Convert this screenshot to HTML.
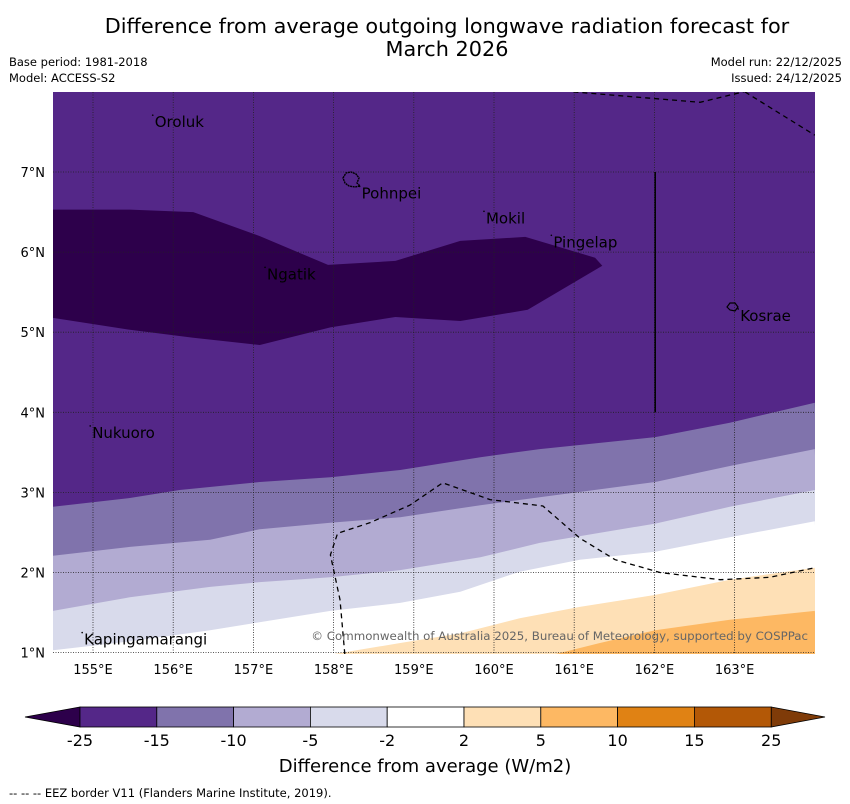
<!DOCTYPE html>
<html><head><meta charset="utf-8">
<style>
body{margin:0;background:#fff;width:850px;height:804px;overflow:hidden;font-family:"Liberation Sans","DejaVu Sans",sans-serif}
svg{display:block}
text{font-family:"DejaVu Sans","Liberation Sans",sans-serif}
</style></head>
<body>
<svg id="chart" width="850" height="804" viewBox="0 0 850 804">
<text x="447" y="33" text-anchor="middle" font-size="20.8" fill="#000">Difference from average outgoing longwave radiation forecast for</text>
<text x="447" y="56" text-anchor="middle" font-size="20.8" fill="#000">March 2026</text>
<text x="9" y="66" font-size="11.5">Base period: 1981-2018</text>
<text x="9" y="82" font-size="11.5">Model: ACCESS-S2</text>
<text x="842" y="66" font-size="11.5" text-anchor="end">Model run: 22/12/2025</text>
<text x="842" y="82" font-size="11.5" text-anchor="end">Issued: 24/12/2025</text>
<defs><clipPath id="mapclip"><rect x="53" y="92" width="762" height="562"/></clipPath></defs>
<g id="map" clip-path="url(#mapclip)"></g>
<g id="over"></g>
<g id="cbar"></g>
<text x="425" y="772" text-anchor="middle" font-size="18">Difference from average (W/m2)</text>
<text x="9" y="797" font-size="11.5">--  --  -- EEZ border V11 (Flanders Marine Institute, 2019).</text>
</svg>
<script>
const lonTicks=[155,156,157,158,159,160,161,162,163];
const latTicks=[1,2,3,4,5,6,7];
const bandColors=["#8073ac","#b2abd2","#d8daeb","#ffffff","#fee0b6","#fdb863"];
const b1=[[154.5,2.82],[155.46,2.93],[156.08,3.03],[157.08,3.13],[157.96,3.19],[158.83,3.28],[159.83,3.44],[160.57,3.54],[162.01,3.69],[162.94,3.87],[164.0,4.12]];
const b2=[[154.5,2.21],[155.46,2.32],[156.46,2.41],[157.08,2.54],[157.96,2.62],[158.83,2.69],[159.83,2.84],[160.57,2.94],[162.01,3.13],[162.94,3.33],[164.0,3.54]];
const b3=[[154.5,1.52],[155.46,1.69],[156.46,1.82],[157.08,1.88],[157.96,1.94],[158.83,2.03],[159.83,2.19],[160.57,2.37],[162.01,2.61],[162.94,2.82],[164.0,3.03]];
const b4=[[154.5,1.03],[155.46,1.14],[156.46,1.28],[157.96,1.52],[158.83,1.62],[159.58,1.76],[160.32,2.01],[161.07,2.16],[162.01,2.26],[162.94,2.44],[164.0,2.64]];
const b5=[[157.99,0.98],[158.83,1.12],[159.58,1.24],[160.32,1.43],[161.07,1.57],[162.01,1.72],[162.94,1.91],[164.0,2.06]];
const b6=[[160.76,0.98],[161.32,1.12],[162.01,1.28],[162.94,1.41],[164.0,1.52]];
const blob=[[154.5,6.53],[155.46,6.53],[156.25,6.5],[157.08,6.2],[157.93,5.84],[158.77,5.89],[159.58,6.14],[160.39,6.19],[161.26,5.93],[161.35,5.83],[160.42,5.28],[159.58,5.14],[158.77,5.19],[157.96,5.06],[157.08,4.84],[156.25,4.93],[155.46,5.03],[154.5,5.18]];
const eez1=[[158.14,0.98],[158.08,1.66],[157.96,2.22],[158.05,2.49],[158.45,2.62],[158.95,2.84],[159.36,3.12],[159.95,2.91],[160.61,2.83],[161.07,2.43],[161.51,2.16],[162.07,2.0],[162.82,1.91],[163.44,1.94],[164.0,2.06]];
const eez2=[[160.99,8.0],[162.57,7.87],[163.19,8.02]];
const eez3=[[163.13,8.0],[164.0,7.46]];
const places=["Oroluk","Pohnpei","Mokil","Pingelap","Ngatik","Kosrae","Nukuoro","Kapingamarangi"];
const placeLon=[155.77,158.35,159.9,160.74,157.17,163.07,154.99,154.89];
const placeLat=[7.56,6.67,6.36,6.06,5.66,5.14,3.68,1.1];
const cbLabels=["-25","-15","-10","-5","-2","2","5","10","15","25"];
const cbColors=["#542788","#8073ac","#b2abd2","#d8daeb","#ffffff","#fee0b6","#fdb863","#e08214","#b35806"];

const NS="http://www.w3.org/2000/svg";
const X=lon=>93+(lon-155)*80.2;
const Y=lat=>172-(lat-7)*80.1;
function mk(tag,attrs,parent){const e=document.createElementNS(NS,tag);for(const k in attrs)e.setAttribute(k,attrs[k]);parent.appendChild(e);return e;}
const pts=a=>a.map(p=>X(p[0]).toFixed(1)+","+Y(p[1]).toFixed(1)).join(" ");
const map=document.getElementById("map");
let bg=mk("rect",{x:53,y:92,width:762,height:562,fill:"#542788"},map);


const bounds=[b1,b2,b3,b4,b5,b6];
bounds.forEach((b,i)=>{
  const first=b[0],last=b[b.length-1];
  const poly=b.concat([[last[0]+0.1,0.5],[first[0]-0.1,0.5]]);
  const e=mk("polygon",{points:pts(poly),fill:bandColors[i]},map);
  
  
});
let bl=mk("polygon",{points:pts(blob),fill:"#2d004b"},map);


lonTicks.forEach(l=>{const e=mk("line",{x1:X(l),x2:X(l),y1:92,y2:654,stroke:"#222",'stroke-width':0.8,'stroke-dasharray':"1,1.5"},map);

});
latTicks.forEach(l=>{const e=mk("line",{x1:53,x2:815,y1:Y(l),y2:Y(l),stroke:"#222",'stroke-width':0.8,'stroke-dasharray':"1,1.5"},map);

});
[eez1,eez2,eez3].forEach(a=>{const e=mk("polyline",{points:pts(a),fill:"none",stroke:"#000",'stroke-width':1.3,'stroke-dasharray':"5,4"},map);

});
let sl=mk("line",{x1:X(162.01),x2:X(162.01),y1:Y(7),y2:Y(4),stroke:"#000",'stroke-width':1.5},map);


let isl=mk("path",{d:"M343,178 l3,-5 l5,-1 l5,2 l3,4 l-2,5 l3,3 l-5,1 l-6,-1 l-4,-3 z",fill:"none",stroke:"#000",'stroke-width':1.4,'stroke-dasharray':"2,0.6"},map);


let isk=mk("path",{d:"M727,307 l3,-4 l5,0 l3,4 l-3,4 l-5,-1 z",fill:"none",stroke:"#000",'stroke-width':1.2},map);


places.forEach((p,i)=>{
  const x=X(placeLon[i]),y=Y(placeLat[i]);
  const d=mk("circle",{cx:x-2,cy:y-12,r:0.8,fill:"#000"},map);
  
  
  const t=mk("text",{x:x,y:y,'font-size':15,fill:"#000"},map);t.textContent=p;
  
  
});
let cp=mk("text",{x:808,y:640,'font-size':11.8,fill:"#666",'text-anchor':"end"},map);
cp.textContent="© Commonwealth of Australia 2025, Bureau of Meteorology, supported by COSPPac";


const over=document.getElementById("over");
lonTicks.forEach(l=>{const t=mk("text",{x:X(l),y:674,'font-size':13,'text-anchor':"middle"},over);t.textContent=l+"°E";

});
latTicks.forEach(l=>{const t=mk("text",{x:45,y:Y(l)+5,'font-size':13,'text-anchor':"end"},over);t.textContent=l+"°N";

});
const cb=document.getElementById("cbar");
const cx0=80,cw=76.8,cy=707,ch=20;
let lt=mk("polygon",{points:`${cx0},${cy} 25,${cy+ch/2} ${cx0},${cy+ch}`,fill:"#2d004b",stroke:"#000",'stroke-width':0.8},cb);


const xe=cx0+cw*cbColors.length;
let rt=mk("polygon",{points:`${xe},${cy} 825,${cy+ch/2} ${xe},${cy+ch}`,fill:"#7f3b08",stroke:"#000",'stroke-width':0.8},cb);


cbColors.forEach((c,i)=>{const r=mk("rect",{x:cx0+cw*i,y:cy,width:cw,height:ch,fill:c,stroke:"#000",'stroke-width':0.8},cb);

});
cbLabels.forEach((s,i)=>{const t=mk("text",{x:cx0+cw*i,y:746,'font-size':16,'text-anchor':"middle"},cb);t.textContent=s;

});
</script>
</body></html>
